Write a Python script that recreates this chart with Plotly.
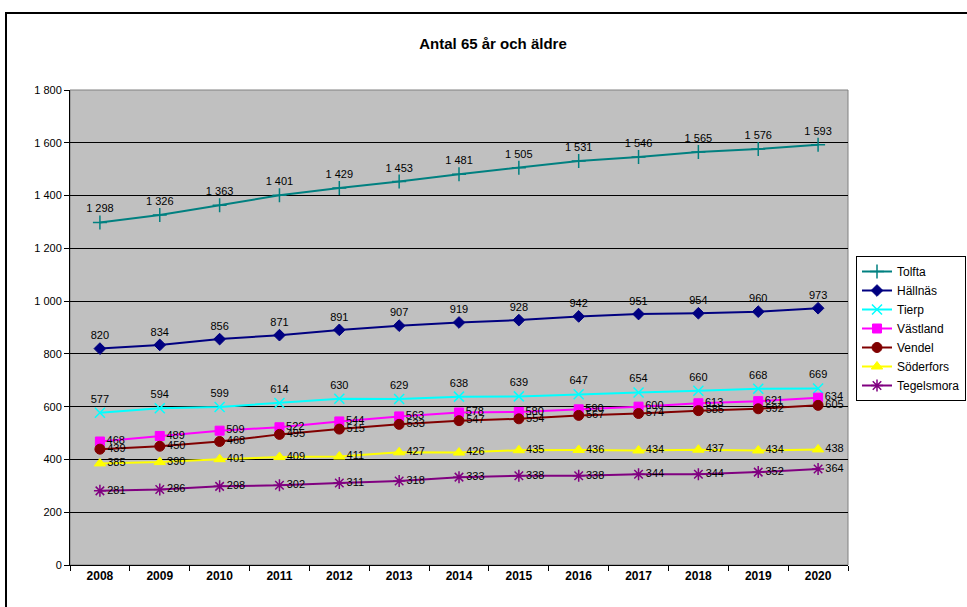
import plotly.graph_objects as go

years = ["2008", "2009", "2010", "2011", "2012", "2013", "2014", "2015", "2016", "2017", "2018", "2019", "2020"]
tolfta = [1298, 1326, 1363, 1401, 1429, 1453, 1481, 1505, 1531, 1546, 1565, 1576, 1593]
hallnas = [820, 834, 856, 871, 891, 907, 919, 928, 942, 951, 954, 960, 973]
tierp = [577, 594, 599, 614, 630, 629, 638, 639, 647, 654, 660, 668, 669]
vastland = [468, 489, 509, 522, 544, 563, 578, 580, 590, 600, 613, 621, 634]
vendel = [439, 450, 468, 495, 515, 533, 547, 554, 567, 574, 585, 592, 605]
soderfors = [385, 390, 401, 409, 411, 427, 426, 435, 436, 434, 437, 434, 438]
tegelsmora = [281, 286, 298, 302, 311, 318, 333, 338, 338, 344, 344, 352, 364]

series = [
    ("Tolfta", tolfta, "#008080", "cross-thin-open", 10, 1.5, "top center"),
    ("Hällnäs", hallnas, "#000080", "diamond", 9, 1, "top center"),
    ("Tierp", tierp, "#00FFFF", "x-thin-open", 10, 1.5, "top center"),
    ("Västland", vastland, "#FF00FF", "square", 9, 1, "middle right"),
    ("Vendel", vendel, "#800000", "circle", 10, 1, "middle right"),
    ("Söderfors", soderfors, "#FFFF00", "triangle-up", 10, 1, "middle right"),
    ("Tegelsmora", tegelsmora, "#800080", "asterisk-open", 10, 1.5, "middle right"),
]

FONT = "Arial, Liberation Sans, sans-serif"
fig = go.Figure()
for name, vals, col, sym, sz, lw, pos in series:
    fig.add_trace(go.Scatter(
        x=years, y=vals, name=name, mode="lines+markers+text",
        line=dict(color=col, width=2),
        marker=dict(symbol=sym, size=sz, color=col, line=dict(color=col, width=lw)),
        text=vals, texttemplate="%{y:,d}", textposition=pos,
        textfont=dict(family=FONT, size=11, color="black"),
        cliponaxis=False,
    ))

L, R, T, B = 70, 848, 90, 565
W, H = 967, 607
pw, ph = R - L, B - T

def px(x):
    return (x - L) / pw

def py(y):
    return (B - y) / ph

fig.update_layout(
    width=W, height=H,
    margin=dict(l=L, r=W - R, t=T, b=H - B, autoexpand=False),
    paper_bgcolor="white", plot_bgcolor="#C0C0C0",
    separators=", ",
    font=dict(family=FONT, size=11, color="black"),
    title=dict(text="<b>Antal 65 år och äldre</b>", font=dict(size=15, family=FONT),
               x=px(493), xref="paper", xanchor="center",
               y=1 - 44 / H, yref="container", yanchor="middle"),
    showlegend=True,
    legend=dict(x=px(856), y=py(256), xanchor="left", yanchor="top",
                bgcolor="white", bordercolor="black", borderwidth=1,
                font=dict(size=12, family=FONT), tracegroupgap=0,
                itemwidth=30, itemsizing="trace"),
    xaxis=dict(type="category", range=[-0.5, 12.5], tickson="boundaries",
               ticks="outside", ticklen=5, tickcolor="black",
               showline=True, linecolor="black", linewidth=1,
               showgrid=False, tickfont=dict(size=12, family=FONT),
               tickprefix="<b>", ticksuffix="</b>", fixedrange=True),
    yaxis=dict(range=[0, 1800], dtick=200, tickformat=",d",
               ticks="outside", ticklen=5, tickcolor="black",
               showline=True, linecolor="black", linewidth=1,
               showgrid=True, gridcolor="black", gridwidth=1,
               zeroline=False, tickfont=dict(size=11, family=FONT)),
    shapes=[
        dict(type="rect", xref="paper", yref="paper", x0=0, x1=1, y0=0, y1=1,
             line=dict(color="#808080", width=1), layer="below"),
        dict(type="rect", xref="paper", yref="paper",
             x0=px(6), x1=px(990), y0=py(13), y1=py(640),
             line=dict(color="black", width=2)),
    ],
)

fig.write_html("out.html")
